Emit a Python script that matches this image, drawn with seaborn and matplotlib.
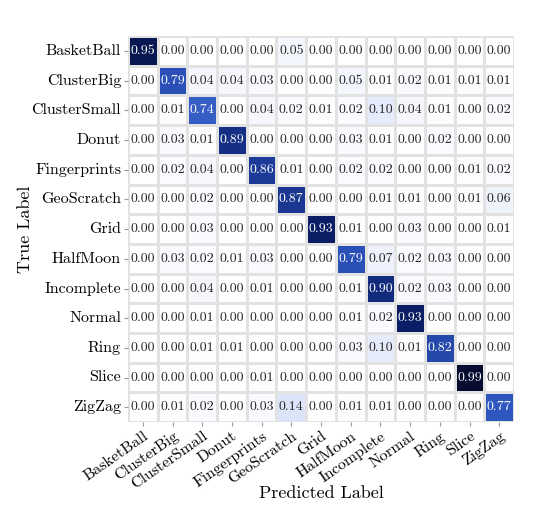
import numpy as np
import pandas as pd
import matplotlib
matplotlib.use("Agg")
import matplotlib.pyplot as plt
from matplotlib.colors import LinearSegmentedColormap
import seaborn as sns

labels = ["BasketBall", "ClusterBig", "ClusterSmall", "Donut", "Fingerprints",
          "GeoScratch", "Grid", "HalfMoon", "Incomplete", "Normal", "Ring",
          "Slice", "ZigZag"]

row_basketball   = [0.95, 0.00, 0.00, 0.00, 0.00, 0.05, 0.00, 0.00, 0.00, 0.00, 0.00, 0.00, 0.00]
row_clusterbig   = [0.00, 0.79, 0.04, 0.04, 0.03, 0.00, 0.00, 0.05, 0.01, 0.02, 0.01, 0.01, 0.01]
row_clustersmall = [0.00, 0.01, 0.74, 0.00, 0.04, 0.02, 0.01, 0.02, 0.10, 0.04, 0.01, 0.00, 0.02]
row_donut        = [0.00, 0.03, 0.01, 0.89, 0.00, 0.00, 0.00, 0.03, 0.01, 0.00, 0.02, 0.00, 0.00]
row_fingerprints = [0.00, 0.02, 0.04, 0.00, 0.86, 0.01, 0.00, 0.02, 0.02, 0.00, 0.00, 0.01, 0.02]
row_geoscratch   = [0.00, 0.00, 0.02, 0.00, 0.00, 0.87, 0.00, 0.00, 0.01, 0.01, 0.00, 0.01, 0.06]
row_grid         = [0.00, 0.00, 0.03, 0.00, 0.00, 0.00, 0.93, 0.01, 0.00, 0.03, 0.00, 0.00, 0.01]
row_halfmoon     = [0.00, 0.03, 0.02, 0.01, 0.03, 0.00, 0.00, 0.79, 0.07, 0.02, 0.03, 0.00, 0.00]
row_incomplete   = [0.00, 0.00, 0.04, 0.00, 0.01, 0.00, 0.00, 0.01, 0.90, 0.02, 0.03, 0.00, 0.00]
row_normal       = [0.00, 0.00, 0.01, 0.00, 0.00, 0.00, 0.00, 0.01, 0.02, 0.93, 0.00, 0.00, 0.00]
row_ring         = [0.00, 0.00, 0.01, 0.01, 0.00, 0.00, 0.00, 0.03, 0.10, 0.01, 0.82, 0.00, 0.00]
row_slice        = [0.00, 0.00, 0.00, 0.00, 0.01, 0.00, 0.00, 0.00, 0.00, 0.00, 0.00, 0.99, 0.00]
row_zigzag       = [0.00, 0.01, 0.02, 0.00, 0.03, 0.14, 0.00, 0.01, 0.01, 0.00, 0.00, 0.00, 0.77]

rows = [row_basketball, row_clusterbig, row_clustersmall, row_donut, row_fingerprints,
        row_geoscratch, row_grid, row_halfmoon, row_incomplete, row_normal, row_ring,
        row_slice, row_zigzag]

df = pd.DataFrame(rows, index=labels, columns=labels)

plt.rcParams["font.family"] = ["cmr10", "DejaVu Serif"]
plt.rcParams["axes.unicode_minus"] = False
plt.rcParams["axes.formatter.use_mathtext"] = True

cmap = LinearSegmentedColormap.from_list(
    "cm_blue",
    [(0.0, "#ffffff"), (0.14, "#dae3f8"), (0.77, "#2e57c0"),
     (0.86, "#1d3c9a"), (0.93, "#0b1f68"), (1.0, "#040a28")])

fig = plt.figure(figsize=(5.4, 5.08), dpi=100)
ax = fig.add_axes([0.237, 0.169, 0.715, 0.760])
sns.heatmap(df, ax=ax, cmap=cmap, vmin=0, vmax=1, annot=True, fmt=".2f",
            annot_kws={"fontsize": 10}, linewidths=0.8, linecolor="#e2e2e2",
            cbar=False, square=False)

ax.set_xlabel("Predicted Label", fontsize=13)
ax.set_ylabel("True Label", fontsize=13)
ax.tick_params(axis="both", length=3, color="#999999", labelsize=11.5, pad=2)
plt.setp(ax.get_xticklabels(), rotation=35, ha="right", rotation_mode="anchor")
plt.setp(ax.get_yticklabels(), rotation=0)
ax.xaxis.set_label_coords(0.5, -0.165)
ax.yaxis.set_label_coords(-0.245, 0.5)

fig.savefig("out.png", dpi=100)
